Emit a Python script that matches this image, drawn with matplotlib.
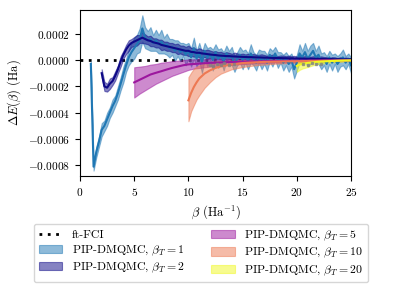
import numpy as np
import matplotlib; matplotlib.use("Agg")
import matplotlib.pyplot as plt

plt.rcParams['font.family'] = 'serif'
plt.rcParams['font.serif'] = ['cmr10']
plt.rcParams['mathtext.fontset'] = 'cm'
plt.rcParams['axes.formatter.use_mathtext'] = True
plt.rcParams['font.size'] = 9
plt.rcParams['xtick.labelsize'] = 8.2
plt.rcParams['ytick.labelsize'] = 8.2

# values in units of 1e-4 Ha
# beta_T = 1, sampled every 0.25 from beta = 1
b1_mean = [-0.3, -8.1, -7.0, -6.2, -5.3, -5.0, -4.5, -4.0, -3.5, -3.1, -2.5, -1.8, -1.1, -0.4,
           0.2, 0.6, 0.9, 1.2, 1.5, 2.4, 1.7, 1.5, 1.6, 1.3, 1.5, 1.2, 1.4, 1.1, 1.2, 0.9, 1.0,
           0.7, 0.9, 0.6, 0.8, 0.4, 0.7, 0.2, 0.9, 0.1, 0.6, -0.2, 0.7, 0.2, 0.5, 0.0, 0.6, 0.1,
           0.4, -0.1, 0.5, 0.2, 0.3, -0.3, 0.1, 0.4, 0.0, 0.3, -0.1, 0.5, 0.1, -0.2, 0.3, 0.0,
           0.2, -0.2, 0.4, 0.1, 0.5, 0.0, 0.2, -0.2, 0.1, -0.3, 0.0, -0.7, -0.2, 0.5, 0.2, 0.6,
           0.1, 0.4, 0.7, 0.2, 0.4, -0.1, 0.1, -0.3, 0.2, -0.2, 0.1, -0.3, 0.0, 0.2, -0.2, 0.1, -0.4]
b1_err = [0.2, 0.3, 0.4, 0.4, 0.5, 0.4, 0.5, 0.4, 0.5, 0.4, 0.5, 0.5, 0.6, 0.5,
          0.6, 0.7, 0.8, 0.7, 0.9, 1.0, 0.8, 0.7, 0.9, 0.6, 0.8, 0.7, 0.9, 0.6, 0.8, 0.7, 0.6,
          0.8, 0.6, 0.7, 0.5, 0.8, 0.6, 0.7, 0.8, 0.6, 0.7, 0.8, 0.6, 0.7, 0.5, 0.8, 0.6, 0.7,
          0.5, 0.7, 0.6, 0.5, 0.7, 0.6, 0.5, 0.6, 0.7, 0.5, 0.6, 0.7, 0.5, 0.6, 0.5, 0.7,
          0.5, 0.6, 0.5, 0.6, 0.5, 0.6, 0.4, 0.6, 0.5, 0.6, 0.5, 0.7, 0.6, 0.7, 0.5, 0.7,
          0.6, 0.7, 0.6, 0.5, 0.7, 0.6, 0.5, 0.6, 0.5, 0.6, 0.4, 0.6, 0.5, 0.6, 0.5, 0.4, 0.6]

# beta_T = 2, sampled every 0.25 from beta = 2
b2_mean = [-1.0, -2.0, -2.1, -1.8, -1.6, -1.2, -0.7, -0.1, 0.4, 0.8, 1.1, 1.3, 1.4, 1.5,
           1.6, 1.7, 1.6, 1.5, 1.45, 1.35, 1.3, 1.25, 1.15, 1.1, 1.05, 1.0, 0.95, 0.9, 0.85,
           0.8, 0.75, 0.7, 0.7, 0.62, 0.6, 0.55, 0.55, 0.5, 0.48, 0.45, 0.42, 0.4, 0.38, 0.35,
           0.33, 0.32, 0.3, 0.3, 0.28, 0.27, 0.26, 0.25, 0.24, 0.23, 0.22, 0.22, 0.21, 0.2,
           0.2, 0.19, 0.18, 0.18, 0.17, 0.16, 0.16, 0.15, 0.15, 0.14, 0.14, 0.13, 0.13, 0.12,
           0.12, 0.11, 0.11, 0.1, 0.1, 0.1, 0.09, 0.09, 0.08, 0.08, 0.08, 0.07, 0.07, 0.07,
           0.06, 0.06, 0.06, 0.05, 0.05, 0.05, 0.05]
b2_err = [0.3, 0.35, 0.3, 0.4, 0.3, 0.35, 0.3, 0.4, 0.3, 0.35, 0.4, 0.3, 0.35, 0.4,
          0.3, 0.4, 0.35, 0.3, 0.4, 0.3, 0.35, 0.3, 0.4, 0.3, 0.35, 0.3, 0.35, 0.3, 0.4,
          0.3, 0.35, 0.3, 0.4, 0.3, 0.35, 0.25, 0.35, 0.3, 0.25, 0.35, 0.3, 0.25, 0.3, 0.25,
          0.3, 0.2, 0.3, 0.25, 0.2, 0.3, 0.25, 0.2, 0.25, 0.2, 0.25, 0.2, 0.25, 0.2,
          0.2, 0.25, 0.2, 0.15, 0.2, 0.25, 0.2, 0.15, 0.2, 0.2, 0.15, 0.2, 0.15, 0.2,
          0.15, 0.2, 0.15, 0.2, 0.15, 0.15, 0.2, 0.15, 0.15, 0.2, 0.15, 0.15, 0.1, 0.15,
          0.15, 0.1, 0.15, 0.1, 0.15, 0.1, 0.1]

# beta_T = 5, sampled every 0.5 from beta = 5
b5_mean = [-1.7, -1.5, -1.3, -1.1, -0.97, -0.85, -0.72, -0.6, -0.5, -0.4, -0.33, -0.3,
           -0.27, -0.24, -0.22, -0.2, -0.18, -0.16, -0.15, -0.14, -0.12, -0.11, -0.1, -0.1,
           -0.09, -0.08, -0.08, -0.07, -0.07, -0.06, -0.06, -0.05, -0.05, -0.04, -0.04,
           -0.03, -0.03, -0.03, -0.02, -0.02, -0.02]
b5_upper = [-0.55, -0.5, -0.45, -0.35, -0.3, -0.2, -0.15, -0.08, -0.05, 0.0, 0.05, 0.05,
            0.1, 0.05, 0.1, 0.05, 0.08, 0.05, 0.08, 0.05, 0.06, 0.05, 0.06, 0.04, 0.05,
            0.04, 0.05, 0.04, 0.05, 0.03, 0.04, 0.03, 0.04, 0.03, 0.03, 0.03, 0.02, 0.03,
            0.02, 0.02, 0.02]
b5_lower = [-2.85, -2.55, -2.3, -2.05, -1.8, -1.6, -1.4, -1.2, -1.05, -0.9, -0.75, -0.65,
            -0.6, -0.55, -0.5, -0.45, -0.42, -0.38, -0.36, -0.33, -0.3, -0.28, -0.26, -0.24,
            -0.22, -0.2, -0.19, -0.18, -0.17, -0.16, -0.15, -0.14, -0.13, -0.12, -0.11,
            -0.1, -0.09, -0.08, -0.07, -0.07, -0.06]

# beta_T = 10
b10_x = [10, 10.25, 10.5, 10.75, 11, 11.5, 12, 12.5, 13, 14, 15, 16, 17, 18, 19, 20, 21, 22, 23, 24, 25]
b10_mean = [-3.06, -2.5, -2.05, -1.7, -1.4, -1.02, -0.78, -0.6, -0.48, -0.33, -0.23, -0.18,
            -0.14, -0.12, -0.1, -0.09, -0.07, -0.06, -0.05, -0.04, -0.03]
b10_upper = [-1.3, -0.95, -0.66, -0.5, -0.4, -0.25, -0.15, -0.1, -0.08, -0.03, 0.0, 0.0,
             0.01, 0.01, 0.01, 0.01, 0.01, 0.01, 0.01, 0.01, 0.01]
b10_lower = [-4.65, -3.9, -3.44, -3.0, -2.68, -2.1, -1.67, -1.3, -1.03, -0.7, -0.53, -0.42,
             -0.34, -0.28, -0.24, -0.2, -0.17, -0.14, -0.12, -0.1, -0.08]

# beta_T = 20
b20_x = [20, 20.25, 20.5, 21, 21.5, 22, 23, 24, 25]
b20_mean = [-0.45, -0.35, -0.3, -0.22, -0.17, -0.13, -0.08, -0.05, -0.03]
b20_upper = [-0.15, -0.1, -0.08, -0.05, -0.03, -0.02, 0.0, 0.0, 0.01]
b20_lower = [-0.9, -0.75, -0.65, -0.53, -0.4, -0.3, -0.18, -0.12, -0.08]

# small grey points
grey_x = [12.0, 12.3, 12.6, 13.0, 13.3, 13.7, 14.2, 20.6, 21.0, 21.4, 21.8, 22.2]
grey_y = [-0.35, -0.45, -0.3, -0.4, -0.25, -0.35, -0.3, -0.3, -0.35, -0.25, -0.3, -0.28]

fci_x = [0, 25]
fci_y = [0, 0]

sc = 1e-4
fig = plt.figure(figsize=(3.98, 2.86), dpi=100)
ax = fig.add_axes([0.201, 0.385, 0.681, 0.58])

ax.plot(fci_x, fci_y, ls=(0, (1, 2)), color='k', lw=2, label='ft-FCI', zorder=1)

def band(x, m, lo, hi, c, lab):
    x = np.asarray(x)
    ax.fill_between(x, np.asarray(lo)*sc, np.asarray(hi)*sc, color=c, alpha=0.5, lw=0.8, label=lab)
    ax.plot(x, np.asarray(m)*sc, color=c, lw=1.5)

x1 = 1.0 + 0.25*np.arange(len(b1_mean))
m1 = np.array(b1_mean); e1 = np.array(b1_err)
band(x1, m1, m1 - e1, m1 + e1, '#1f77b4', r'PIP-DMQMC, $\beta_T = 1$')
x2 = 2.0 + 0.25*np.arange(len(b2_mean))
m2 = np.array(b2_mean); e2 = np.array(b2_err)
band(x2, m2, m2 - e2, m2 + e2, '#0d0887', r'PIP-DMQMC, $\beta_T = 2$')
x5 = 5.0 + 0.5*np.arange(len(b5_mean))
band(x5, b5_mean, b5_lower, b5_upper, '#9c179e', r'PIP-DMQMC, $\beta_T = 5$')
band(b10_x, b10_mean, b10_lower, b10_upper, '#ed7953', r'PIP-DMQMC, $\beta_T = 10$')
band(b20_x, b20_mean, b20_lower, b20_upper, '#f0f921', r'PIP-DMQMC, $\beta_T = 20$')
ax.plot(grey_x, np.array(grey_y)*sc, ls='none', marker='s', ms=1.5, color='grey', alpha=0.7)

ax.set_xlim(0, 25)
ax.set_ylim(-0.00088, 0.00038)
ax.set_yticks([-0.0008, -0.0006, -0.0004, -0.0002, 0.0, 0.0002])
ax.yaxis.set_major_formatter(matplotlib.ticker.FuncFormatter(lambda v, p: r'$%.4f$' % v))
ax.set_xticks([0, 5, 10, 15, 20, 25])
ax.set_xlabel(r'$\beta$ (Ha$^{-1}$)')
ax.set_ylabel(r'$\Delta E(\beta)$ (Ha)')

ax.legend(loc='upper center', bbox_to_anchor=(0.446, -0.29), ncol=2, fontsize=8.5,
          handlelength=2.0, handletextpad=0.8, columnspacing=2.3, labelspacing=0.25,
          borderaxespad=0)

fig.savefig('out.png', dpi=100)
